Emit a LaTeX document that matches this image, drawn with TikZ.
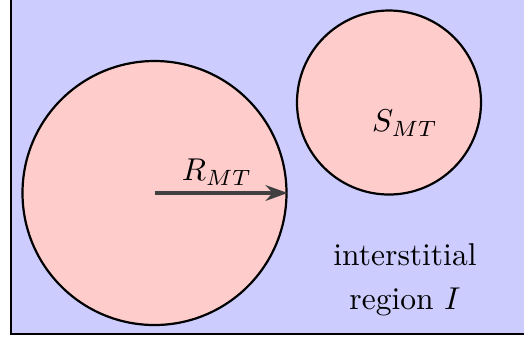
\documentclass[tikz,border=0pt]{standalone}
\usetikzlibrary{arrows.meta}
\begin{document}
\begin{tikzpicture}[x=0.317pt,y=-0.317pt,
  frame/.style={draw=black,fill=blue!20,line width=0.7pt},
  sphere/.style={draw=black,fill=red!20,line width=0.7pt},
  radius arrow/.style={draw=black!75,line width=1pt,-{Stealth[length=7pt,width=5pt]}},
  lbl/.style={inner sep=0pt}]
\useasboundingbox (0,0) rectangle (524,338);
\draw[frame] (11,-1.2) rectangle (540,334);
\node[sphere,circle,minimum size=264*0.317pt,inner sep=0pt] (big) at (154.5,193) {};
\node[sphere,circle,minimum size=184*0.317pt,inner sep=0pt] (small) at (389,102.5) {};
\coordinate (c) at (154.5,193);
\draw[radius arrow] (c) -- (big.east);
\node[lbl] (R) at (217,172) {$R_{MT}$};
\node[lbl] (S) at (405,123) {$S_{MT}$};
\node[lbl,align=center] (I) at (405,280) {interstitial\\[2pt]region $I$};
\end{tikzpicture}
\end{document}
